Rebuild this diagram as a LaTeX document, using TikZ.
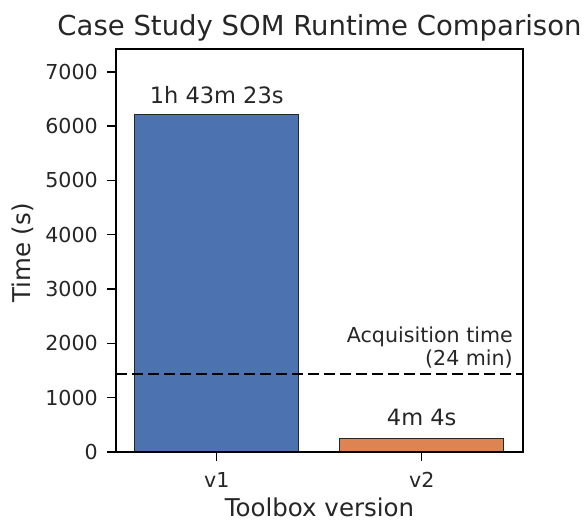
\documentclass[tikz,border=0pt]{standalone}
\usepackage{fontspec}
\setmainfont{DejaVu Sans}
\usepackage{xcolor}
\usepackage{tikz}
\usetikzlibrary{positioning}

\definecolor{barblue}{HTML}{4C72B0}
\definecolor{barorange}{HTML}{DD8452}
\definecolor{ink}{HTML}{262626}

\begin{document}
\begin{tikzpicture}[x=1pt, y=1pt, text=ink,
        bar/.style={draw=black!85, line width=0.8pt, inner sep=0pt, minimum width=164pt, anchor=south},
        tick/.style={line width=1.4pt, black},
        small/.style={font=\fontsize{20.6}{23.5}\selectfont, inner sep=0pt},
        note/.style={font=\fontsize{22.5}{26}\selectfont, inner sep=0pt},
        big/.style={font=\fontsize{24.5}{29}\selectfont, inner sep=0pt}]
        \useasboundingbox (0,0) rectangle (585,521);
        % axes corners, 1000 s = 54.31pt
        \coordinate (O) at (116,69);
        \coordinate (T) at (523,472);
        % runtimes: v1 = 6203 s, v2 = 244 s
        \node[bar, fill=barblue, minimum height=336.9pt] (v1) at (216.7,69) {};
        \node[bar, fill=barorange, minimum height=13.25pt] (v2) at (421.7,69) {};
        \node[note, above = 10pt of v1] {1h 43m 23s};
        \node[note, above = 12pt of v2] {4m 4s};
        % acquisition time, 1440 s
        \coordinate (acqL) at (116,147.2);
        \coordinate (acqR) at (523,147.2);
        \path (acqL) edge [black, line width=1.6pt, dash pattern=on 11pt off 5pt] (acqR);
        \node[small, align=right, anchor=east] (acq) at (513,173.5) {Acquisition time\\(24 min)};
        % y ticks
        \foreach \v [count=\i from 0] in {0,1000,...,7000} {
            \coordinate (yt\i) at (116,69+\i*54.31);
            \draw[tick] (yt\i) -- ++(-9,0);
            \node[small, anchor=east] at (98,69+\i*54.31) {\v};
        }
        % x ticks
        \foreach \n in {v1,v2} {
            \draw[tick] (\n.south) -- ++(0,-9);
            \node[small, anchor=north] at ([yshift=-20pt]\n.south) {\n};
        }
        \draw[black, line width=1.8pt] (O) rectangle (T);
        \node[big, anchor=base] (xlab) at (319.5,5) {Toolbox version};
        \node[big, rotate=90] (ylab) at (23,268) {Time (s)};
        \node[font=\fontsize{27.5}{32}\selectfont, inner sep=0pt] (title) at (319.5,493) {Case Study SOM Runtime Comparison};
    \end{tikzpicture}
\end{document}
